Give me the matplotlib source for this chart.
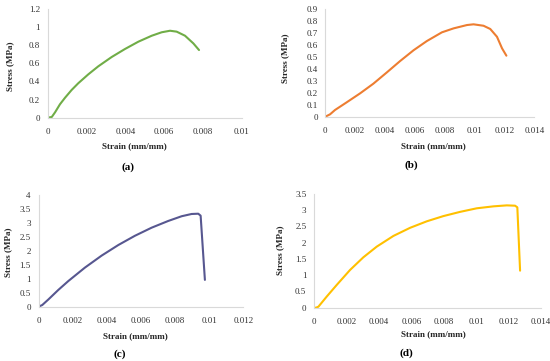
import matplotlib
matplotlib.use("Agg")
import matplotlib.pyplot as plt
from matplotlib.ticker import MultipleLocator, FuncFormatter

plt.rcParams['font.family'] = ['Liberation Serif', 'DejaVu Serif']

# (a)
strain_a = [0, 0.00022, 0.00039, 0.00064, 0.0009, 0.00124, 0.00158, 0.0021, 0.00261,
            0.0033, 0.00398, 0.00467, 0.00536, 0.00587, 0.0063, 0.00664, 0.00707,
            0.0075, 0.00779]
stress_a = [0, 0.008, 0.06, 0.148, 0.22, 0.306, 0.38, 0.479, 0.567,
            0.67, 0.758, 0.839, 0.905, 0.943, 0.96, 0.95, 0.905,
            0.82, 0.747]
# (b)
strain_b = [0, 0.00032, 0.00065, 0.00143, 0.00233, 0.00322, 0.00412, 0.00501, 0.00591,
            0.0068, 0.00781, 0.00859, 0.00949, 0.00993, 0.0106, 0.01105, 0.0115,
            0.01184, 0.01213]
stress_b = [0, 0.02, 0.056, 0.12, 0.195, 0.276, 0.37, 0.465, 0.555,
            0.632, 0.705, 0.738, 0.766, 0.772, 0.76, 0.733, 0.668,
            0.571, 0.51]
# (c)
strain_c = [0, 0.00022, 0.00058, 0.00116, 0.00175, 0.00272, 0.0037, 0.00468, 0.00565,
            0.00663, 0.0076, 0.00839, 0.00897, 0.00936, 0.0095, 0.00975]
stress_c = [0, 0.06, 0.26, 0.6, 0.92, 1.4, 1.83, 2.21, 2.54,
            2.83, 3.07, 3.24, 3.32, 3.33, 3.26, 0.96]
# (d)
strain_d = [0, 0.00012, 0.00027, 0.00078, 0.0014, 0.00222, 0.00304, 0.00387, 0.0049,
            0.00593, 0.00696, 0.00798, 0.00901, 0.01004, 0.01107, 0.01189, 0.0124,
            0.01254, 0.01271]
stress_d = [0, 0, 0.03, 0.34, 0.70, 1.16, 1.55, 1.88, 2.21,
            2.46, 2.66, 2.82, 2.95, 3.06, 3.12, 3.15, 3.14,
            3.09, 1.14]

W, H = 550, 361
fig = plt.figure(figsize=(W / 100, H / 100), dpi=100)

panels = [
    # x, y, colour, box px (left, right, top, bottom), xmax, ymax, ystep,
    # xlabel centre, ylabel centre (axes fraction), tag, tag centre (px)
    (strain_a, stress_a, '#70AD47', (47.5, 242, 9, 117.7), 0.01, 1.2, 0.2,
     (0.445, -0.258), (-0.193, 0.47), '(a)', (128, 167)),
    (strain_b, stress_b, '#ED7D31', (325.3, 534.3, 9, 116.7), 0.014, 0.9, 0.1,
     (0.515, -0.272), (-0.19, 0.54), '(b)', (411, 165)),
    (strain_c, stress_c, '#575790', (38.5, 243.3, 195, 306.7), 0.012, 4, 0.5,
     (0.471, -0.262), (-0.147, 0.483), '(c)', (119.3, 354)),
    (strain_d, stress_d, '#FFC000', (314, 541, 194, 307.7), 0.014, 3.5, 0.5,
     (0.526, -0.231), (-0.15, 0.507), '(d)', (406.7, 352.7)),
]

fmt = FuncFormatter(lambda v, p: '%g' % round(v, 6))

for x, y, color, box, xmax, ymax, ystep, xlp, ylp, tag, tagpos in panels:
    l, r, t, b = box
    ax = fig.add_axes([l / W, 1 - b / H, (r - l) / W, (b - t) / H])
    ax.plot(x, y, color=color, lw=1.5, solid_capstyle='round', solid_joinstyle='round')
    ax.set_xlim(0, xmax)
    ax.set_ylim(0, ymax)
    ax.xaxis.set_major_locator(MultipleLocator(0.002))
    ax.yaxis.set_major_locator(MultipleLocator(ystep))
    ax.xaxis.set_major_formatter(fmt)
    ax.yaxis.set_major_formatter(fmt)
    for s in ['top', 'right']:
        ax.spines[s].set_visible(False)
    for s in ['left', 'bottom']:
        ax.spines[s].set_color('#D9D9D9')
        ax.spines[s].set_linewidth(0.8)
    ax.tick_params(axis='x', length=0, labelsize=6.5, colors='#333333', pad=7.5)
    ax.tick_params(axis='y', length=0, labelsize=6.5, colors='#333333', pad=5.5)
    ax.set_xlabel('Strain (mm/mm)', fontsize=6.5, fontweight='bold', color='#262626')
    ax.set_ylabel('Stress (MPa)', fontsize=6.5, fontweight='bold', color='#262626')
    ax.xaxis.label.set_va('center')
    ax.yaxis.label.set_va('center')
    ax.xaxis.set_label_coords(*xlp)
    ax.yaxis.set_label_coords(*ylp)
    fig.text(tagpos[0] / W, 1 - tagpos[1] / H, tag, fontsize=8, fontweight='bold',
             ha='center', va='center', color='black')

fig.savefig('out.png', dpi=100)
